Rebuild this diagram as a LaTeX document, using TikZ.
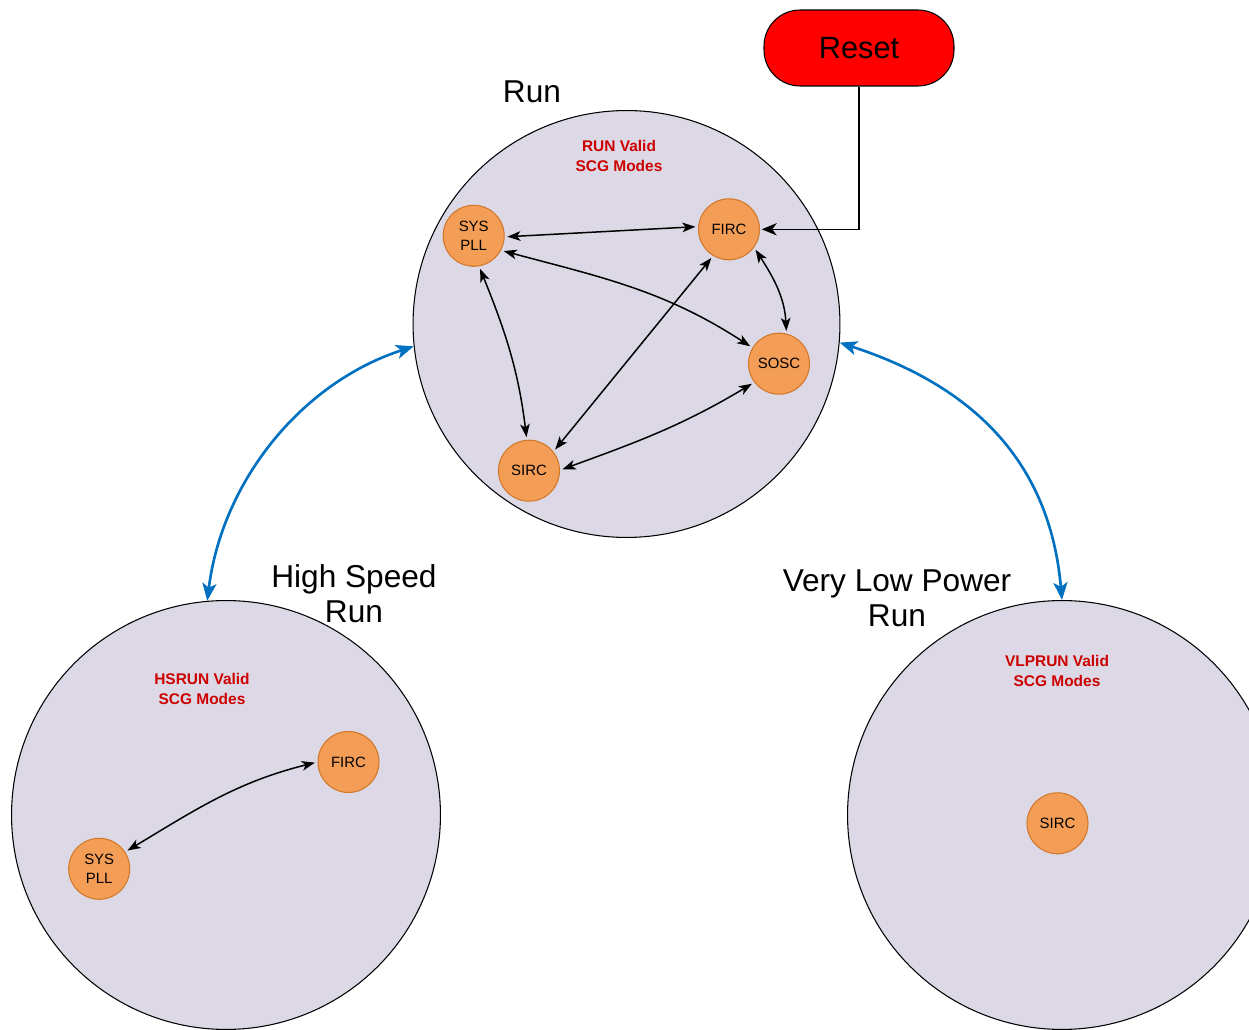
\documentclass[tikz,border=0pt]{standalone}
\usepackage{fontspec}
\setmainfont{Liberation Sans}
\usetikzlibrary{arrows.meta}
\definecolor{bigfill}{HTML}{DDD8E6}
\definecolor{clkfill}{HTML}{F39D56}
\definecolor{clkdraw}{HTML}{D2782A}
\definecolor{modered}{HTML}{CC0000}
\definecolor{linkblue}{HTML}{0070C0}
\definecolor{resetred}{HTML}{FF0000}
\begin{document}
\begin{tikzpicture}[x=0.02cm,y=0.02cm,
 bigc/.style={circle,draw=black,line width=0.6pt,fill=bigfill,inner sep=0pt,minimum size=8.58cm},
 clk/.style={circle,draw=clkdraw,line width=0.6pt,fill=clkfill,inner sep=0pt,minimum size=1.22cm,align=center,font=\fontsize{8.5}{11.3}\selectfont},
 modetxt/.style={text=modered,align=center,font=\bfseries\fontsize{8.8}{11.3}\selectfont},
 biglbl/.style={align=center,font=\fontsize{18}{19.8}\selectfont},
 arr/.style={draw=black,line width=0.85pt,>={Stealth[length=7.5pt,width=5.5pt,inset=2pt]},shorten <=1.5pt,shorten >=1.5pt},
 resetarr/.style={draw=black,line width=0.85pt,>={Stealth[length=8.5pt,width=7pt,inset=2.5pt]},shorten >=1pt},
 bluearr/.style={draw=linkblue,line width=1.5pt,>={Stealth[length=10pt,width=8pt,inset=2.5pt]}},
 resetbox/.style={rectangle,rounded corners=0.72cm,draw=black,line width=0.6pt,fill=resetred,minimum width=3.8cm,minimum height=1.52cm,font=\fontsize{17.5}{20}\selectfont}
]
\useasboundingbox (0,0) rectangle (1249,1029);
\clip (0,0) rectangle (1249,1029);

% mode circles
\node[bigc,minimum size=8.54cm] (run) at (626.5,705) {};
\node[bigc] (hs) at (226,214) {};
\node[bigc] (vlp) at (1062,214) {};

% labels
\node[biglbl] (runlbl) at (532,937) {Run};
\node[biglbl] (hslbl) at (354,435.5) {High Speed\\Run};
\node[biglbl] (vlplbl) at (897,430.5) {Very Low Power\\Run};

\node[modetxt] (runtxt) at (619,873) {RUN Valid\\SCG Modes};
\node[modetxt] (hstxt) at (202,340) {HSRUN Valid\\SCG Modes};
\node[modetxt] (vlptxt) at (1057,358) {VLPRUN Valid\\SCG Modes};

% reset
\node[resetbox] (reset) at (859,981) {Reset};

% clocks in RUN
\node[clk] (sp) at (473.7,793.2) {SYS\\PLL};
\node[clk] (fi) at (729,799.7) {FIRC};
\node[clk] (so) at (779,665.3) {SOSC};
\node[clk] (si) at (529,558.3) {SIRC};

% clocks in HSRUN
\node[clk] (hsfi) at (348.5,267) {FIRC};
\node[clk] (hssp) at (99.2,160.2) {SYS\\PLL};

% clocks in VLPRUN
\node[clk] (vlpsi) at (1057.5,205.7) {SIRC};

% RUN connectors
\draw[arr,<->] (sp.-2) -- (fi.175);
\draw[arr,<->] (fi.-121) -- (si.38);
\draw[arr,<->] (sp.-28) to[out=-15,in=147] (so.149);
\draw[arr,<->] (sp.-80) to[out=-68,in=97] (si.94);
\draw[arr,<->] (fi.-36) to[out=-57,in=93] (so.76);
\draw[arr,<->] (so.-143) to[out=-149,in=20] (si.1);
\draw[resetarr,->] (reset.south) |- (fi.east);

% HSRUN connector
\draw[arr,<->] (hsfi.180) to[out=-166,in=31] (hssp.33);

% mode transitions
\draw[bluearr,<->] (run.186) to[out=198,in=83,looseness=0.93] (hs.95);
\draw[bluearr,<->] (run.-5) to[out=-18,in=95,looseness=1.05] (vlp.90.5);
\end{tikzpicture}
\end{document}
